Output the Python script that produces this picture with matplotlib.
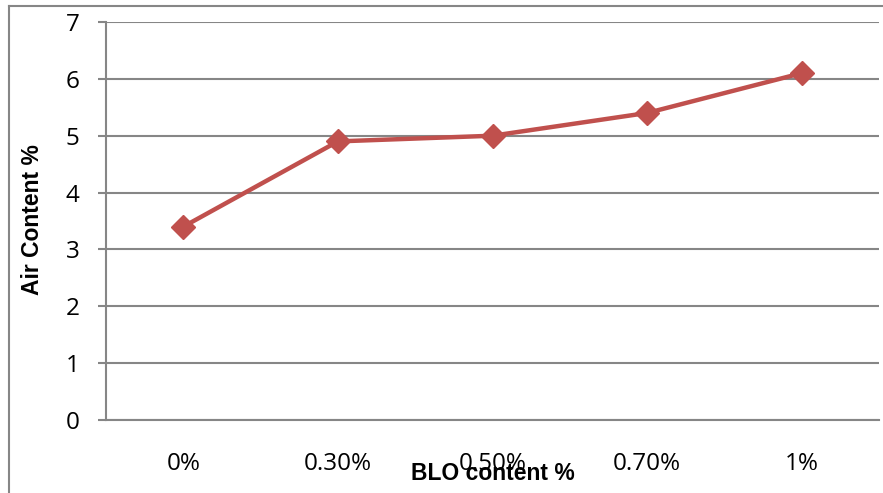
import matplotlib
matplotlib.use('Agg')
import matplotlib.pyplot as plt
from matplotlib.lines import Line2D

# datos
categories = ['0%', '0.30%', '0.50%', '0.70%', '1%']
air_content = [3.4, 4.9, 5.0, 5.4, 6.1]
y_ticks = [0, 1, 2, 3, 4, 5, 6, 7]

W, H = 883, 493
grid_col = '#868686'
line_col = '#C0504D'

fig = plt.figure(figsize=(W / 100, H / 100), dpi=100)
ax = fig.add_axes([106 / W, (H - 420) / H, (879 - 106) / W, (420 - 22) / H])

x = list(range(len(categories)))
ax.plot(x, air_content, color=line_col, lw=3.2, marker='D', markersize=12,
        markerfacecolor=line_col, markeredgecolor=line_col, zorder=3)

ax.set_xlim(-0.5, len(categories) - 0.5)
ax.set_ylim(0, 7)
ax.set_yticks(y_ticks)
ax.set_xticks(x)
ax.set_xticklabels(categories)

ax.grid(axis='y', color=grid_col, lw=1.5)
ax.set_axisbelow(True)
for s in ['top', 'right']:
    ax.spines[s].set_visible(False)
for s in ['left', 'bottom']:
    ax.spines[s].set_color(grid_col)
    ax.spines[s].set_linewidth(1.5)

ax.tick_params(axis='y', length=6, width=1.5, color=grid_col, pad=13)
ax.tick_params(axis='x', length=0, pad=23)
for lbl in ax.get_xticklabels() + ax.get_yticklabels():
    lbl.set_fontfamily(['Open Sans', 'DejaVu Sans'])
    lbl.set_fontsize(17.5)

label_font = ['Liberation Sans Narrow', 'Liberation Sans', 'DejaVu Sans']
fig.text(493 / W, 1 - 473 / H, 'BLO content %', ha='center', va='center',
         fontsize=16.5, fontweight='bold', family=label_font)
fig.text(33 / W, 1 - 220 / H, 'Air Content %', ha='center', va='center',
         rotation=90, fontsize=16.5, fontweight='bold', family=label_font)

# borde del grafico
fig.add_artist(Line2D([9 / W, 9 / W], [1 - 6 / H, 0], transform=fig.transFigure,
                      color=grid_col, lw=1.5))
fig.add_artist(Line2D([9 / W, 1], [1 - 6 / H, 1 - 6 / H], transform=fig.transFigure,
                      color=grid_col, lw=1.5))

fig.savefig('out.png', dpi=100)
